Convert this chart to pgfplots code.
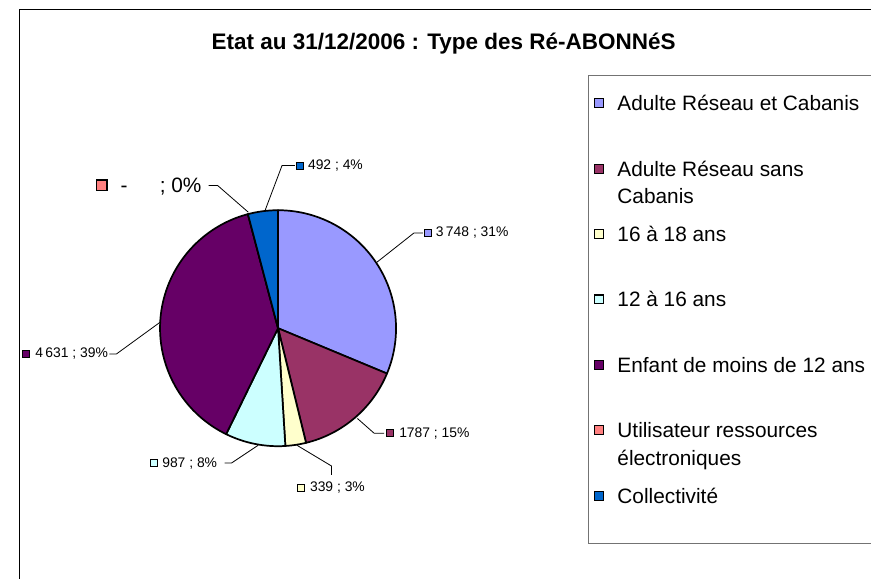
\documentclass[border=0pt]{standalone}
\usepackage{pgfplots}
\pgfplotsset{compat=1.18}
\usepackage{pgfplotstable}
\usepackage{fontspec}
\setmainfont{Liberation Sans}

\definecolor{sA}{HTML}{9999FF}
\definecolor{sB}{HTML}{993366}
\definecolor{sC}{HTML}{FFFFCC}
\definecolor{sD}{HTML}{CCFFFF}
\definecolor{sE}{HTML}{660066}
\definecolor{sF}{HTML}{FF8080}
\definecolor{sG}{HTML}{0066CC}

% subscribers by type, pie goes clockwise from 12 o'clock
\pgfplotstableread[col sep=comma]{
value,color
3748,sA
1787,sB
339,sC
987,sD
4631,sE
0,sF
492,sG
}\pietable

\newcommand{\swatch}[4]{% x, y, size, colour
  \filldraw[fill=#4,draw=black,line width=0.8pt] (axis cs:#1-#3/2,#2-#3/2) rectangle (axis cs:#1+#3/2,#2+#3/2);}
\newcommand{\lblfont}{\fontsize{10.5pt}{12pt}\selectfont}
\newcommand{\bigfont}{\fontsize{15.75pt}{19pt}\selectfont}
% legend entry: y of first line, colour, first line, second line
\newcommand{\legentry}[4]{%
  \swatch{597}{#1}{9}{#2}
  \node[anchor=base west,font=\bigfont,inner sep=0pt] at (axis cs:615,#1+7.5) {#3};
  \node[anchor=base west,font=\bigfont,inner sep=0pt] at (axis cs:615,#1+35) {#4};}

\begin{document}
\pgfmathsetmacro\total{0}
\pgfplotsforeachungrouped \i in {0,...,6}{%
  \pgfplotstablegetelem{\i}{value}\of\pietable
  \pgfmathsetmacro\total{\total+\pgfplotsretval}%
}
\begin{tikzpicture}
\useasboundingbox (0,0) rectangle (653.25pt,437.25pt);
\begin{axis}[
  at={(0,0)}, anchor=south west,
  width=653.25pt, height=437.25pt, scale only axis,
  xmin=0, xmax=871, ymin=0, ymax=583, y dir=reverse,
  hide axis, clip=false,
]
% chart frame
\draw[black,line width=0.8pt] (axis cs:12,600) -- (axis cs:12,9.5) -- (axis cs:900,9.5);
\node[anchor=base,inner sep=0pt,font=\fontsize{17pt}{20pt}\selectfont\bfseries] at (axis cs:440,50) {Etat au 31/12/2006 : Type des Ré-ABONNéS};

% slices
\pgfmathsetmacro\angA{90}
\pgfplotsforeachungrouped \i in {0,...,6}{%
  \pgfplotstablegetelem{\i}{value}\of\pietable
  \pgfmathsetmacro\angB{\angA-360*(\pgfplotsretval/\total)}%
  \pgfplotstablegetelem{\i}{color}\of\pietable
  \edef\slice{\noexpand\filldraw[fill=\pgfplotsretval,draw=black,line width=1.3pt,line join=round]
    (axis cs:273,331) -- ++(\angA:89.25pt) arc[start angle=\angA,end angle=\angB,radius=89.25pt] -- cycle;}%
  \slice
  \let\angA\angB
}

% data labels
\draw[line width=0.6pt] (axis cs:260,212) -- (axis cs:277,167) -- (axis cs:290,167);
\swatch{295}{167}{7}{sG}
\node[anchor=west,font=\lblfont,inner sep=0pt] at (axis cs:303,167) {492 ; 4\%};

\draw[line width=0.6pt] (axis cs:372,265) -- (axis cs:410,235) -- (axis cs:419,235);
\swatch{424}{235}{7}{sA}
\node[anchor=west,font=\lblfont,inner sep=0pt] at (axis cs:432,235) {3\,748 ; 31\%};

\draw[line width=0.6pt] (axis cs:353,422) -- (axis cs:370,437) -- (axis cs:380,437);
\swatch{386}{437}{7}{sB}
\node[anchor=west,font=\lblfont,inner sep=0pt] at (axis cs:395,437) {1787 ; 15\%};

\draw[line width=0.6pt] (axis cs:292,449) -- (axis cs:327,470) -- (axis cs:327,479);
\swatch{296}{492}{7}{sC}
\node[anchor=west,font=\lblfont,inner sep=0pt] at (axis cs:305,492) {339 ; 3\%};

\draw[line width=0.6pt] (axis cs:253,449) -- (axis cs:226,467) -- (axis cs:219,467);
\swatch{148}{467}{7}{sD}
\node[anchor=west,font=\lblfont,inner sep=0pt] at (axis cs:156,467) {987 ; 8\%};

\draw[line width=0.6pt] (axis cs:154,325) -- (axis cs:110,357) -- (axis cs:103,357);
\swatch{19}{357}{7}{sE}
\node[anchor=west,font=\lblfont,inner sep=0pt] at (axis cs:28,357) {4\,631 ; 39\%};

\draw[line width=0.6pt] (axis cs:243,214) -- (axis cs:212,187) -- (axis cs:203,187);
\swatch{95}{187}{11}{sF}
\node[anchor=base west,font=\bigfont,inner sep=0pt] at (axis cs:114,194.5) {-};
\node[anchor=base east,font=\bigfont,inner sep=0pt] at (axis cs:196,194.5) {; 0\%};

% legend
\draw[draw=black!55,line width=1pt,fill=white] (axis cs:586,76) rectangle (axis cs:900,548);
\legentry{104}{sA}{Adulte Réseau et Cabanis}{}
\legentry{170}{sB}{Adulte Réseau sans}{Cabanis}
\legentry{236}{sC}{16 à 18 ans}{}
\legentry{302}{sD}{12 à 16 ans}{}
\legentry{368}{sE}{Enfant de moins de 12 ans}{}
\legentry{434}{sF}{Utilisateur ressources}{électroniques}
\legentry{500}{sG}{Collectivité}{}
\end{axis}
\end{tikzpicture}
\end{document}
